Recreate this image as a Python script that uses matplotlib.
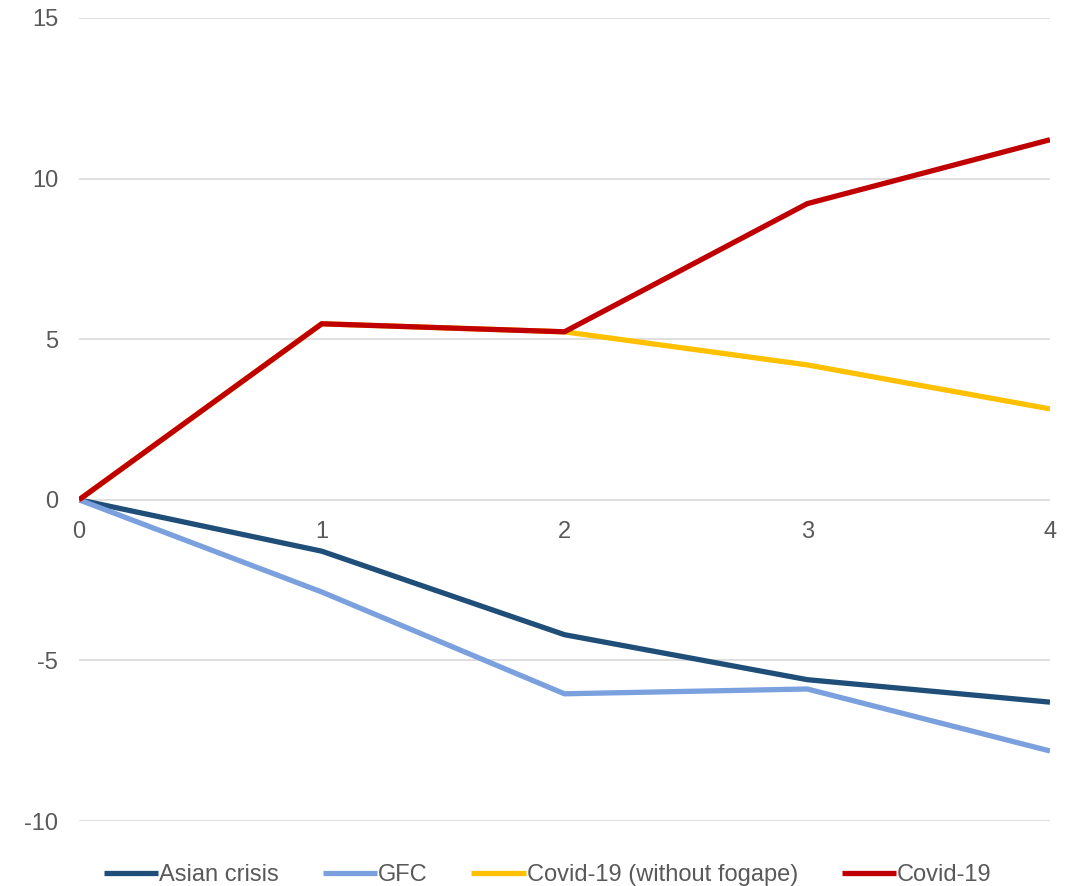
import matplotlib.pyplot as plt

plt.rcParams['font.family'] = ['Liberation Sans', 'DejaVu Sans']
plt.rcParams['axes.unicode_minus'] = False

quarters = [0, 1, 2, 3, 4]
asian_crisis = [0, -1.6, -4.2, -5.6, -6.3]
gfc = [0, -2.87, -6.04, -5.89, -7.82]
covid_no_fogape = [0, 5.48, 5.23, 4.2, 2.83]
covid = [0, 5.48, 5.23, 9.22, 11.21]

fig = plt.figure(figsize=(10.74, 8.86), dpi=100)
ax = fig.add_axes([79/1074, 65/886, (1050-79)/1074, (821-18)/886])

lw = 3.8
ax.plot(quarters, asian_crisis, color='#1F4E79', lw=lw, label='Asian crisis', solid_capstyle='butt')
ax.plot(quarters, gfc, color='#7BA0DE', lw=lw, label='GFC', solid_capstyle='butt')
ax.plot(quarters, covid_no_fogape, color='#FFC000', lw=lw, label='Covid-19 (without fogape)', solid_capstyle='butt')
ax.plot(quarters, covid, color='#C00000', lw=lw, label='Covid-19', solid_capstyle='butt')

ax.set_xlim(0, 4)
ax.set_ylim(-10, 15)
ax.set_yticks([-10, -5, 0, 5, 10, 15])
ax.set_xticks(quarters)
ax.yaxis.grid(True, color='#D9D9D9', lw=1.2)
ax.set_axisbelow(True)
for s in ax.spines.values():
    s.set_visible(False)
ax.spines['bottom'].set_position(('data', 0))
ax.tick_params(axis='both', length=0, labelsize=17, labelcolor='#595959')
ax.tick_params(axis='y', pad=15)
ax.tick_params(axis='x', pad=15)

fig.legend(loc='lower center', bbox_to_anchor=(0.51, -0.024), ncol=4, frameon=False,
           fontsize=17, labelcolor='#595959', handlelength=2.3, handletextpad=0.05,
           columnspacing=1.85)

fig.savefig('out.png', dpi=100)
